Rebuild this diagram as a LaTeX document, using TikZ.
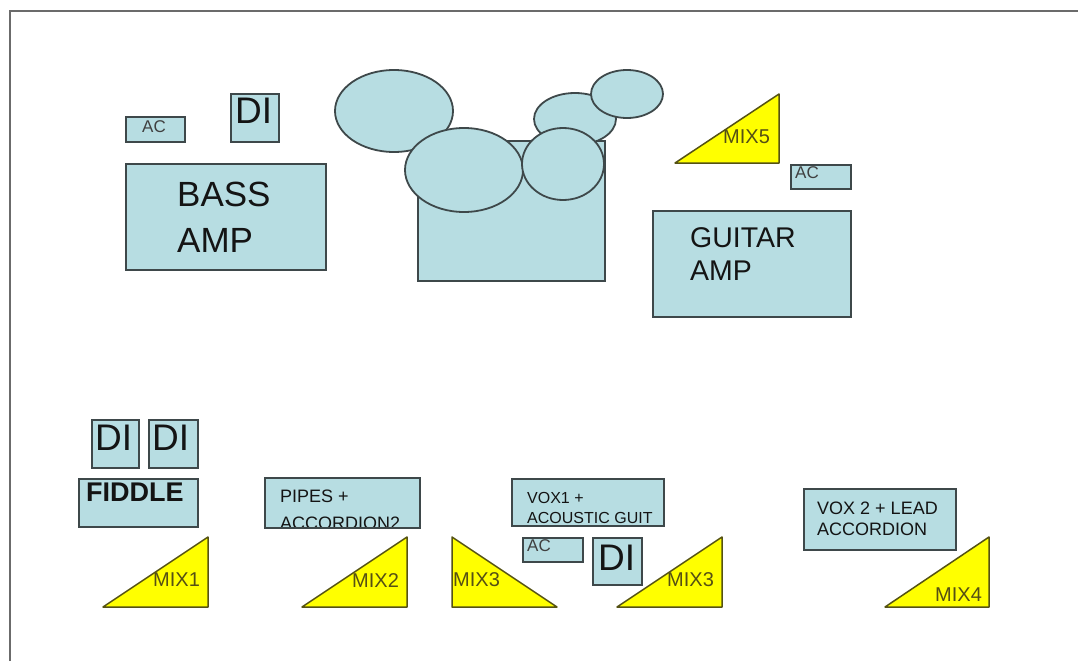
\documentclass[tikz,border=0pt]{standalone}
\usepackage{fontspec}
\setmainfont{Liberation Sans}
\usepackage{tikz}
\usetikzlibrary{calc}

\definecolor{gearblue}{RGB}{183,221,226}
\definecolor{gearline}{RGB}{62,72,74}
\definecolor{mixyellow}{RGB}{255,255,0}
\definecolor{mixline}{RGB}{85,82,20}
\definecolor{mixtext}{RGB}{85,80,20}

\tikzset{
  gear/.style={draw=gearline,fill=gearblue,line width=1.8pt,inner sep=0pt,anchor=north west},
  drum/.style={draw=gearline,fill=gearblue,line width=1.8pt},
  wedge/.style={draw=mixline,fill=mixyellow,line width=1.5pt,line join=round},
  lbl/.style={inner sep=0pt,anchor=north west,align=left,text=black!92},
  small/.style={lbl,font=\fontsize{17}{18}\selectfont,text=black!75},
  bigdi/.style={lbl,font=\fontsize{37}{38}\selectfont},
  mixlbl/.style={inner sep=0pt,anchor=north west,text=mixtext,font=\fontsize{20}{22}\selectfont}
}

\begin{document}
\begin{tikzpicture}[x=1pt,y=-1pt]
    \useasboundingbox (0,0) rectangle (1078,661);

    % Stage outline
    \draw[line width=2.2pt,black!58] (10,661) -- (10,11) -- (1078,11);

    % Bass corner
    \node[gear,minimum width=59pt,minimum height=25pt] (bassac) at (125,116) {};
    \node[small] at ($(bassac.north west)+(17,4)$) {AC};
    \node[gear,minimum width=48pt,minimum height=48pt] (bassdi) at (230,93) {};
    \node[bigdi] at ($(bassdi.north west)+(5,5)$) {DI};
    \node[gear,minimum width=200pt,minimum height=106pt] (bassamp) at (125,163) {};
    \node[lbl,font=\fontsize{35}{46}\selectfont] at ($(bassamp.north west)+(52,19)$) {BASS\\AMP};

    % Drum kit
    \node[gear,minimum width=187pt,minimum height=140pt] (kit) at (417,140) {};
    \draw[drum] (394,111) ellipse (59 and 41);
    \draw[drum] (464,170) ellipse (59 and 42);
    \draw[drum] (575,119) ellipse (41 and 26);
    \draw[drum] (627,94) ellipse (36 and 24);
    \draw[drum] (563,164) ellipse (41 and 36);

    % Guitar corner
    \draw[wedge] (675,163) -- (779,94) -- (779,163) -- cycle;
    \node[mixlbl] at (723,130) {MIX5};
    \node[gear,minimum width=60pt,minimum height=24pt] (guitac) at (790,164) {};
    \node[small] at ($(guitac.north west)+(5,2)$) {AC};
    \node[gear,minimum width=198pt,minimum height=106pt] (guitamp) at (652,210) {};
    \node[lbl,font=\fontsize{28.5}{33}\selectfont] at ($(guitamp.north west)+(38,17)$) {GUITAR\\AMP};

    % Fiddle
    \node[gear,minimum width=47pt,minimum height=48pt] (fiddi) at (91,419) {};
    \node[bigdi] at ($(fiddi.north west)+(4,6)$) {DI};
    \node[gear,minimum width=49pt,minimum height=48pt] (fiddii) at (148,419) {};
    \node[bigdi] at ($(fiddii.north west)+(4,6)$) {DI};
    \node[gear,minimum width=119pt,minimum height=48pt] (fiddle) at (78,478) {};
    \node[lbl,font=\bfseries\fontsize{27}{30}\selectfont] at ($(fiddle.north west)+(8,5)$) {FIDDLE};
    \draw[wedge] (103,607) -- (208,537) -- (208,607) -- cycle;
    \node[mixlbl] at (153,573) {MIX1};

    % Pipes
    \node[gear,draw=none,minimum width=153pt,minimum height=48pt] (pipes) at (265,478) {};
    \begin{scope}
      \clip (pipes.north west) rectangle (pipes.south east);
      \node[lbl,font=\fontsize{18}{27}\selectfont] at ($(pipes.north west)+(15,12)$) {PIPES +\\ACCORDION2};
    \end{scope}
    \draw[draw=gearline,line width=1.8pt] (pipes.north west) rectangle (pipes.south east);
    \draw[wedge] (302,607) -- (407,537) -- (407,607) -- cycle;
    \node[mixlbl] at (352,573) {MIX2};

    % Vox 1
    \node[gear,minimum width=152pt,minimum height=47pt] (voxi) at (511,478) {};
    \node[lbl,font=\fontsize{16}{20}\selectfont] at ($(voxi.north west)+(16,14)$) {VOX1 +\\ACOUSTIC GUIT};
    \node[gear,minimum width=60pt,minimum height=24pt] (voxac) at (522,537) {};
    \node[small] at ($(voxac.north west)+(5,2)$) {AC};
    \node[gear,minimum width=49pt,minimum height=47pt] (voxdi) at (592,537) {};
    \node[bigdi] at ($(voxdi.north west)+(6,8)$) {DI};
    \draw[wedge] (452,537) -- (452,607) -- (557,607) -- cycle;
    \node[mixlbl] at (453,572) {MIX3};
    \draw[wedge] (617,607) -- (722,537) -- (722,607) -- cycle;
    \node[mixlbl] at (667,572) {MIX3};

    % Vox 2
    \node[gear,minimum width=152pt,minimum height=61pt] (voxii) at (803,488) {};
    \node[lbl,font=\fontsize{18}{21}\selectfont] at ($(voxii.north west)+(14,14)$) {VOX 2 + LEAD\\ACCORDION};
    \draw[wedge] (885,607) -- (989,537) -- (989,607) -- cycle;
    \node[mixlbl] at (935,588) {MIX4};
\end{tikzpicture}
\end{document}
